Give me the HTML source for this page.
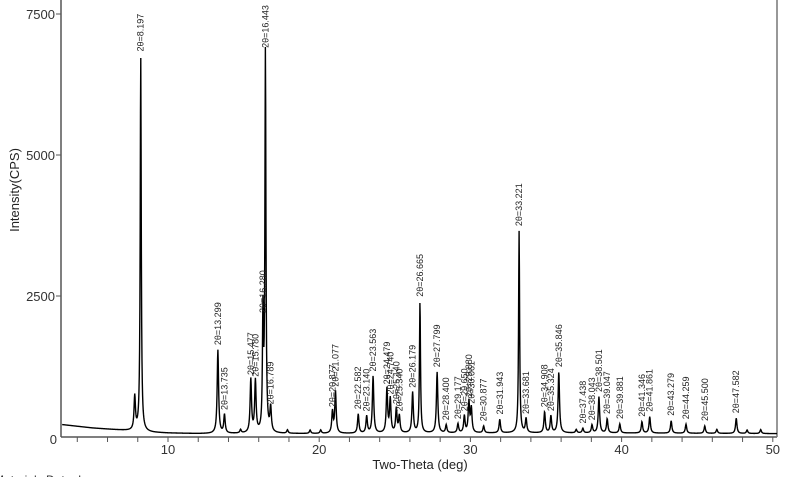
<!DOCTYPE html>
<html><head><meta charset="utf-8">
<style>
html,body{margin:0;padding:0;background:#fff;}
svg{display:block;font-family:"Liberation Sans",sans-serif;}
</style></head>
<body>
<svg id="chart" width="800" height="477" viewBox="0 0 800 477" xmlns="http://www.w3.org/2000/svg">
<g id="axes"></g>
<g id="plot"></g>
<g id="labels"></g>
<text x="0" y="0" transform="translate(19,190) rotate(-90)" text-anchor="middle" font-size="13" fill="#222">Intensity(CPS)</text>
<text x="420" y="469" text-anchor="middle" font-size="13" fill="#222">Two-Theta (deg)</text>
<text x="-6" y="484" font-size="12" fill="#333">Materials Data, Inc.</text>
<text x="690" y="484" font-size="10" fill="#333">THU OCT 27  MDI</text>
</svg>
<script>
const xTicks=[10,20,30,40,50];
const yTicks=[0,2500,5000,7500];
const peakPos=[7.8,8.197,13.299,13.735,15.477,15.780,16.280,16.443,16.789,20.877,21.077,22.582,23.140,23.563,24.479,24.7,25.1,25.3,26.179,26.665,27.799,28.400,29.177,29.6,29.9,30.061,30.877,31.943,33.221,33.681,34.908,35.324,35.846,37.438,38.043,38.501,39.047,39.881,41.346,41.861,43.279,44.259,45.500,47.582,14.8,17.9,19.4,20.1,37.0,46.3,48.3,49.2];
const peakHeight=[600,6650,1480,330,950,920,2050,6750,430,380,740,340,300,1010,780,600,430,300,720,2330,1080,140,160,300,550,430,120,240,3580,250,370,300,1080,80,140,640,250,160,200,290,220,160,130,270,60,60,60,60,60,70,60,70];
const peakLabel=["","2θ=8.197","2θ=13.299","2θ=13.735","2θ=15.477","2θ=15.780","2θ=16.280","2θ=16.443","2θ=16.789","2θ=20.877","2θ=21.077","2θ=22.582","2θ=23.140","2θ=23.563","2θ=24.479","2θ=24.740","2θ=25.140","2θ=25.340","2θ=26.179","2θ=26.665","2θ=27.799","2θ=28.400","2θ=29.177","2θ=29.650","2θ=29.880","2θ=30.061","2θ=30.877","2θ=31.943","2θ=33.221","2θ=33.681","2θ=34.908","2θ=35.324","2θ=35.846","2θ=37.438","2θ=38.043","2θ=38.501","2θ=39.047","2θ=39.881","2θ=41.346","2θ=41.861","2θ=43.279","2θ=44.259","2θ=45.500","2θ=47.582","","","","","","","",""];
const baseX=[3,5,7,9,10,12,20,30,40,50.3];
const baseY=[220,160,120,80,70,60,60,70,70,60];

const NS="http://www.w3.org/2000/svg";
const X=v=>168+(v-10)*15.12;
const Y=c=>437-c*141/2500;
function mk(tag,attrs,parent){const e=document.createElementNS(NS,tag);for(const k in attrs)e.setAttribute(k,attrs[k]);parent.appendChild(e);return e;}
const axes=document.getElementById('axes'),plot=document.getElementById('plot'),lab=document.getElementById('labels');

let l=mk('line',{x1:61,y1:0,x2:61,y2:437,stroke:'#555','stroke-width':1.5},axes);

l=mk('line',{x1:61,y1:437,x2:777,y2:437,stroke:'#555','stroke-width':1.5},axes);

l=mk('line',{x1:777,y1:0,x2:777,y2:437,stroke:'#777','stroke-width':1.5},axes);


for(let v=4;v<=50;v+=2){const t=mk('line',{x1:X(v),y1:437,x2:X(v),y2:442,stroke:'#555'},axes);
}
xTicks.forEach(v=>{const t=mk('text',{x:X(v),y:454,'text-anchor':'middle','font-size':13,fill:'#333'},axes);t.textContent=v;
});
yTicks.forEach(v=>{if(v>0){const t=mk('line',{x1:56,y1:Y(v),x2:61,y2:Y(v),stroke:'#555'},axes);
}
const tx=mk('text',{x:v===0?57:55,y:Y(v)+5+(v===0?2:0),'text-anchor':'end','font-size':13,fill:'#333'},axes);tx.textContent=v;
});

function base(x){for(let i=0;i<baseX.length-1;i++){if(x<=baseX[i+1]){const f=(x-baseX[i])/(baseX[i+1]-baseX[i]);return baseY[i]+f*(baseY[i+1]-baseY[i]);}}return baseY[baseY.length-1];}
let pts=[];
for(let x=3;x<=50.3;x+=0.02){let c=base(x);peakPos.forEach((p,i)=>{const w=peakHeight[i]>1500?0.04:0.055;const d=(x-p)/w;c+=peakHeight[i]/(1+d*d);});
pts.push(X(x).toFixed(2)+','+Y(c).toFixed(2));}
const pl=mk('polyline',{points:pts.join(' '),fill:'none',stroke:'#000','stroke-width':1.4},plot);


peakPos.forEach((p,i)=>{if(!peakLabel[i])return;const x=X(p)+3,y=Y(peakHeight[i]+base(p))-5;
const t=mk('text',{x:0,y:0,transform:`translate(${x.toFixed(1)},${y.toFixed(1)}) rotate(-90)`,'font-size':9,fill:'#222'},lab);
t.textContent=peakLabel[i];

});
</script>
</body></html>
